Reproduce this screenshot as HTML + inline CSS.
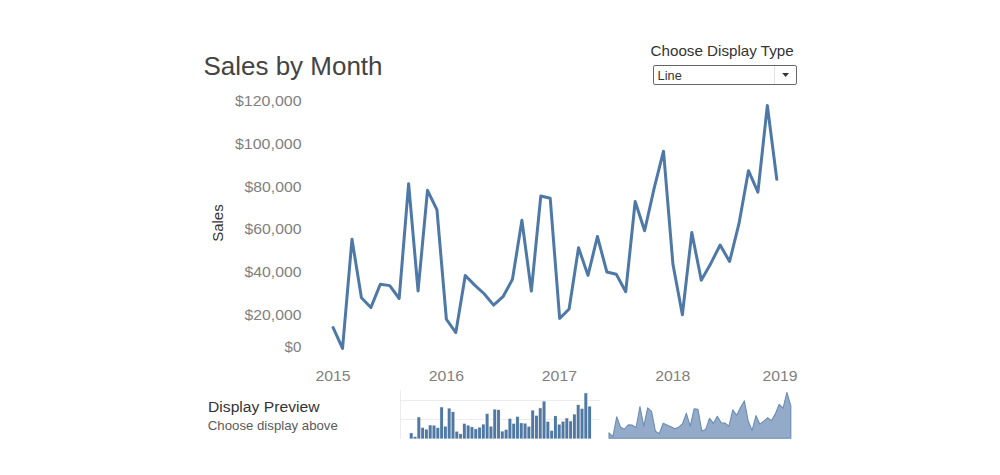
<!DOCTYPE html>
<html><head><meta charset="utf-8">
<style>
html,body{margin:0;padding:0;background:#fff;width:1000px;height:475px;overflow:hidden}
svg{display:block}
text{font-family:"Liberation Sans", sans-serif}
</style></head><body>
<svg width="1000" height="475" viewBox="0 0 1000 475">
<rect width="1000" height="475" fill="#fff"/>
<text x="203.5" y="74.5" font-size="25" fill="#444" textLength="179" lengthAdjust="spacingAndGlyphs">Sales by Month</text>
<text x="650.6" y="56" font-size="14.5" fill="#333" textLength="143" lengthAdjust="spacingAndGlyphs">Choose Display Type</text>
<rect x="653.5" y="65.5" width="143" height="19" rx="1.6" ry="1.6" fill="#fff" stroke="#666" stroke-width="1"/>
<line x1="774.5" y1="66" x2="774.5" y2="84" stroke="#e2e2e2" stroke-width="1"/>
<path d="M782.2,73.1 L789,73.1 L785.6,76.9 Z" fill="#333"/>
<text x="657.6" y="79.5" font-size="12.5" fill="#333" textLength="24.2" lengthAdjust="spacingAndGlyphs">Line</text>
<g font-size="14.5" fill="#7f7f7f">
<text x="235.0" y="106.3" textLength="66.5" lengthAdjust="spacingAndGlyphs">$120,000</text><text x="235.0" y="149.0" textLength="66.5" lengthAdjust="spacingAndGlyphs">$100,000</text><text x="244.5" y="191.7" textLength="57" lengthAdjust="spacingAndGlyphs">$80,000</text><text x="244.5" y="234.3" textLength="57" lengthAdjust="spacingAndGlyphs">$60,000</text><text x="244.5" y="277.0" textLength="57" lengthAdjust="spacingAndGlyphs">$40,000</text><text x="244.5" y="320.2" textLength="57" lengthAdjust="spacingAndGlyphs">$20,000</text><text x="284.6" y="352.2" textLength="16.8" lengthAdjust="spacingAndGlyphs">$0</text>
<text x="315.4" y="380.5" textLength="35.2" lengthAdjust="spacingAndGlyphs">2015</text><text x="428.8" y="380.5" textLength="35.2" lengthAdjust="spacingAndGlyphs">2016</text><text x="541.8" y="380.5" textLength="35.2" lengthAdjust="spacingAndGlyphs">2017</text><text x="655.2" y="380.5" textLength="35.2" lengthAdjust="spacingAndGlyphs">2018</text><text x="762.4" y="380.5" textLength="35.2" lengthAdjust="spacingAndGlyphs">2019</text>
</g>
<text transform="translate(222.8,241.8) rotate(-90)" font-size="15.5" fill="#333" textLength="37.5" lengthAdjust="spacingAndGlyphs">Sales</text>
<polyline points="333.10,327.65 342.54,348.36 351.98,239.27 361.42,297.67 370.86,307.58 380.30,284.24 389.74,285.63 399.18,298.50 408.62,183.65 418.06,290.94 427.50,190.36 436.94,209.73 446.38,319.25 455.82,332.52 465.26,275.44 474.70,285.10 484.14,293.76 493.58,305.13 503.02,296.67 512.46,279.33 521.90,220.28 531.34,291.04 540.78,196.03 550.22,198.27 559.66,318.47 569.10,309.01 578.54,247.74 587.98,275.38 597.42,236.50 606.86,271.99 616.30,274.29 625.74,291.66 635.18,201.49 644.62,230.75 654.06,188.69 663.50,151.20 672.94,264.25 682.38,314.72 691.82,232.48 701.26,280.14 710.70,263.64 720.14,245.04 729.58,261.50 739.02,223.43 748.46,170.67 757.90,192.18 767.34,105.47 776.78,179.28" fill="none" stroke="#4e79a7" stroke-width="3" stroke-linejoin="round" stroke-linecap="round"/>
<text x="208" y="411.8" font-size="14" fill="#333" textLength="111.5" lengthAdjust="spacingAndGlyphs">Display Preview</text>
<text x="207.8" y="429.8" font-size="12.6" fill="#5a5a5a" textLength="130" lengthAdjust="spacingAndGlyphs">Choose display above</text>
<g stroke="#ececec" stroke-width="1">
<line x1="400.5" y1="390" x2="400.5" y2="439"/>
<line x1="400.5" y1="400.5" x2="600" y2="400.5"/>
<line x1="400.5" y1="419.5" x2="600" y2="419.5"/>
</g>
<g fill="#efebe6"><rect x="409.35" y="432.65" width="3.75" height="5.95"/><rect x="413.15" y="436.37" width="3.75" height="2.23"/><rect x="416.94" y="416.77" width="3.75" height="21.83"/><rect x="420.74" y="427.26" width="3.75" height="11.34"/><rect x="424.53" y="429.04" width="3.75" height="9.56"/><rect x="428.33" y="424.85" width="3.75" height="13.75"/><rect x="432.12" y="425.1" width="3.75" height="13.50"/><rect x="435.92" y="427.41" width="3.75" height="11.19"/><rect x="439.71" y="406.78" width="3.75" height="31.82"/><rect x="443.51" y="426.05" width="3.75" height="12.55"/><rect x="447.30" y="407.99" width="3.75" height="30.61"/><rect x="451.10" y="411.46" width="3.75" height="27.14"/><rect x="454.89" y="431.14" width="3.75" height="7.46"/><rect x="458.68" y="433.52" width="3.75" height="5.08"/><rect x="462.48" y="423.27" width="3.75" height="15.33"/><rect x="466.28" y="425.0" width="3.75" height="13.60"/><rect x="470.07" y="426.56" width="3.75" height="12.04"/><rect x="473.86" y="428.6" width="3.75" height="10.00"/><rect x="477.66" y="427.08" width="3.75" height="11.52"/><rect x="481.46" y="423.97" width="3.75" height="14.63"/><rect x="485.25" y="413.36" width="3.75" height="25.24"/><rect x="489.05" y="426.07" width="3.75" height="12.53"/><rect x="492.84" y="409.0" width="3.75" height="29.60"/><rect x="496.64" y="409.41" width="3.75" height="29.19"/><rect x="500.43" y="431.0" width="3.75" height="7.60"/><rect x="504.23" y="429.3" width="3.75" height="9.30"/><rect x="508.02" y="418.29" width="3.75" height="20.31"/><rect x="511.81" y="423.26" width="3.75" height="15.34"/><rect x="515.61" y="416.27" width="3.75" height="22.33"/><rect x="519.41" y="422.65" width="3.75" height="15.95"/><rect x="523.20" y="423.06" width="3.75" height="15.54"/><rect x="527.00" y="426.18" width="3.75" height="12.42"/><rect x="530.79" y="409.98" width="3.75" height="28.62"/><rect x="534.58" y="415.24" width="3.75" height="23.36"/><rect x="538.38" y="407.69" width="3.75" height="30.91"/><rect x="542.17" y="400.95" width="3.75" height="37.65"/><rect x="545.97" y="421.26" width="3.75" height="17.34"/><rect x="549.77" y="430.32" width="3.75" height="8.28"/><rect x="553.56" y="415.55" width="3.75" height="23.05"/><rect x="557.35" y="424.11" width="3.75" height="14.49"/><rect x="561.15" y="421.15" width="3.75" height="17.45"/><rect x="564.94" y="417.81" width="3.75" height="20.79"/><rect x="568.74" y="420.76" width="3.75" height="17.84"/><rect x="572.54" y="413.92" width="3.75" height="24.68"/><rect x="576.33" y="404.45" width="3.75" height="34.15"/><rect x="580.13" y="408.31" width="3.75" height="30.29"/><rect x="583.92" y="392.73" width="3.75" height="45.87"/><rect x="587.72" y="405.99" width="3.75" height="32.61"/></g>
<g fill="#4e79a7"><rect x="409.8" y="433.15" width="2.85" height="5.45"/><rect x="413.6" y="436.87" width="2.85" height="1.73"/><rect x="417.39" y="417.27" width="2.85" height="21.33"/><rect x="421.19" y="427.76" width="2.85" height="10.84"/><rect x="424.98" y="429.54" width="2.85" height="9.06"/><rect x="428.78" y="425.35" width="2.85" height="13.25"/><rect x="432.57" y="425.6" width="2.85" height="13.00"/><rect x="436.37" y="427.91" width="2.85" height="10.69"/><rect x="440.16" y="407.28" width="2.85" height="31.32"/><rect x="443.96" y="426.55" width="2.85" height="12.05"/><rect x="447.75" y="408.49" width="2.85" height="30.11"/><rect x="451.55" y="411.96" width="2.85" height="26.64"/><rect x="455.34" y="431.64" width="2.85" height="6.96"/><rect x="459.13" y="434.02" width="2.85" height="4.58"/><rect x="462.93" y="423.77" width="2.85" height="14.83"/><rect x="466.73" y="425.5" width="2.85" height="13.10"/><rect x="470.52" y="427.06" width="2.85" height="11.54"/><rect x="474.31" y="429.1" width="2.85" height="9.50"/><rect x="478.11" y="427.58" width="2.85" height="11.02"/><rect x="481.91" y="424.47" width="2.85" height="14.13"/><rect x="485.7" y="413.86" width="2.85" height="24.74"/><rect x="489.5" y="426.57" width="2.85" height="12.03"/><rect x="493.29" y="409.5" width="2.85" height="29.10"/><rect x="497.09" y="409.91" width="2.85" height="28.69"/><rect x="500.88" y="431.5" width="2.85" height="7.10"/><rect x="504.68" y="429.8" width="2.85" height="8.80"/><rect x="508.47" y="418.79" width="2.85" height="19.81"/><rect x="512.26" y="423.76" width="2.85" height="14.84"/><rect x="516.06" y="416.77" width="2.85" height="21.83"/><rect x="519.86" y="423.15" width="2.85" height="15.45"/><rect x="523.65" y="423.56" width="2.85" height="15.04"/><rect x="527.45" y="426.68" width="2.85" height="11.92"/><rect x="531.24" y="410.48" width="2.85" height="28.12"/><rect x="535.03" y="415.74" width="2.85" height="22.86"/><rect x="538.83" y="408.19" width="2.85" height="30.41"/><rect x="542.62" y="401.45" width="2.85" height="37.15"/><rect x="546.42" y="421.76" width="2.85" height="16.84"/><rect x="550.22" y="430.82" width="2.85" height="7.78"/><rect x="554.01" y="416.05" width="2.85" height="22.55"/><rect x="557.8" y="424.61" width="2.85" height="13.99"/><rect x="561.6" y="421.65" width="2.85" height="16.95"/><rect x="565.39" y="418.31" width="2.85" height="20.29"/><rect x="569.19" y="421.26" width="2.85" height="17.34"/><rect x="572.99" y="414.42" width="2.85" height="24.18"/><rect x="576.78" y="404.95" width="2.85" height="33.65"/><rect x="580.58" y="408.81" width="2.85" height="29.79"/><rect x="584.37" y="393.23" width="2.85" height="45.37"/><rect x="588.17" y="406.49" width="2.85" height="32.11"/></g>
<path d="M609.00,438.3 L609.00,432.79 L612.87,436.55 L616.74,416.75 L620.60,427.35 L624.47,429.15 L628.34,424.91 L632.21,425.16 L636.08,427.50 L639.94,406.65 L643.81,426.13 L647.68,407.87 L651.55,411.39 L655.42,431.27 L659.28,433.67 L663.15,423.31 L667.02,425.07 L670.89,426.64 L674.76,428.70 L678.62,427.17 L682.49,424.02 L686.36,413.30 L690.23,426.15 L694.10,408.90 L697.96,409.31 L701.83,431.12 L705.70,429.41 L709.57,418.29 L713.44,423.30 L717.30,416.25 L721.17,422.69 L725.04,423.11 L728.91,426.26 L732.78,409.89 L736.64,415.20 L740.51,407.57 L744.38,400.76 L748.25,421.28 L752.12,430.44 L755.98,415.52 L759.85,424.17 L763.72,421.17 L767.59,417.80 L771.46,420.78 L775.32,413.87 L779.19,404.30 L783.06,408.20 L786.93,392.46 L790.80,405.86 L790.80,438.3 Z" fill="#93abc9" stroke="#6a8cb5" stroke-width="1.1" stroke-linejoin="round"/>
</svg>
</body></html>
